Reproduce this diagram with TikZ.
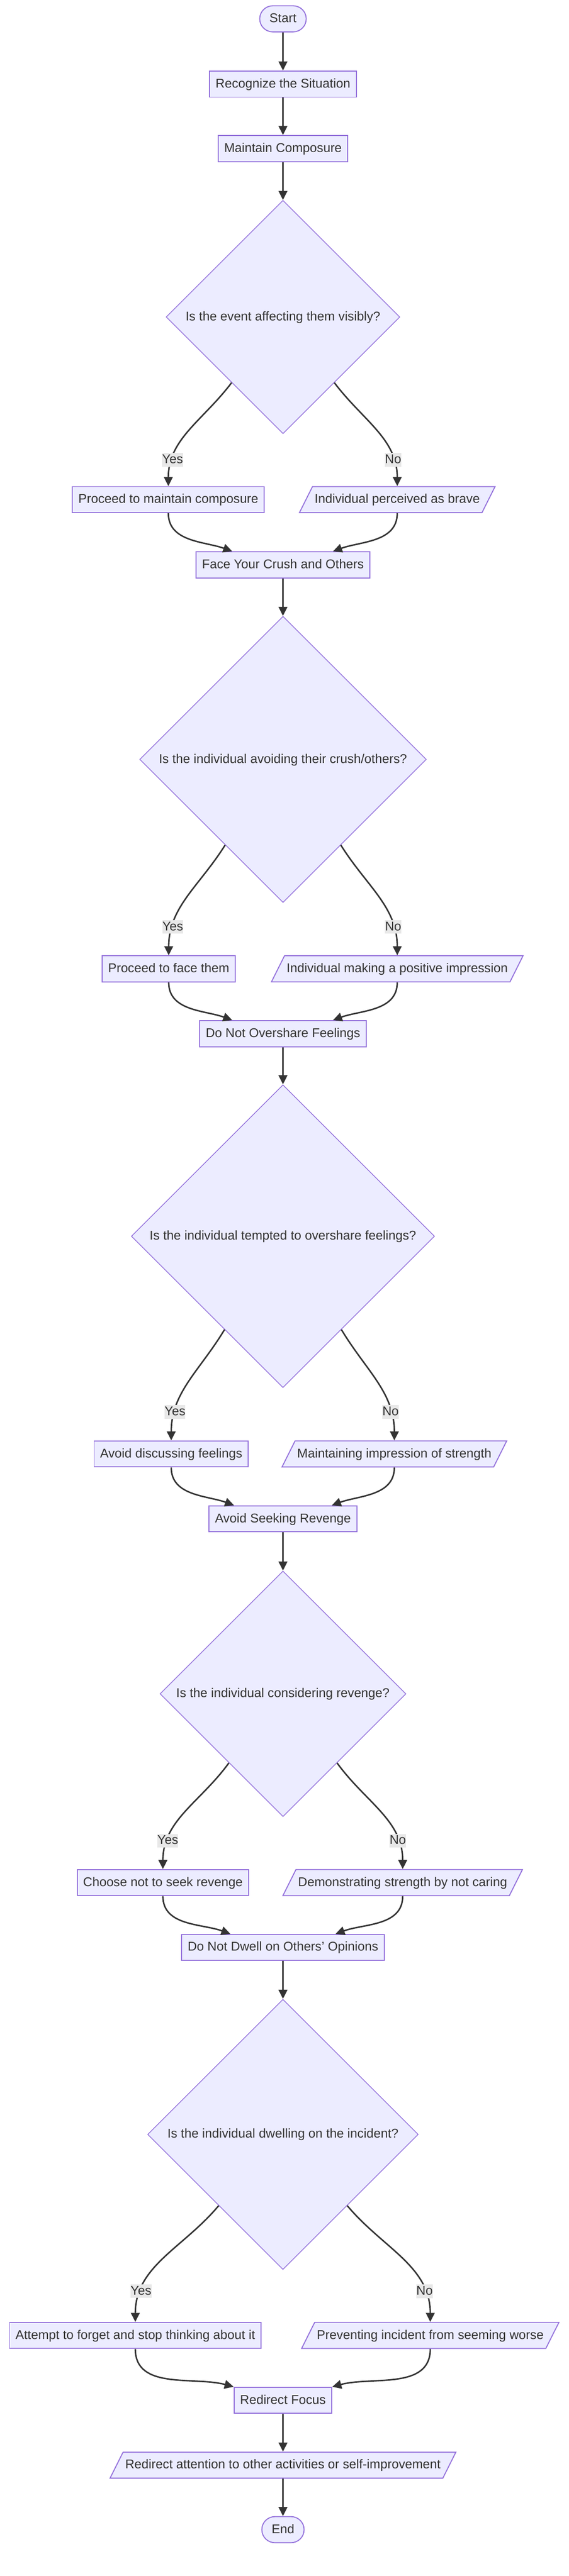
\documentclass[tikz,border=0pt]{standalone}
\usepackage{fontspec}
\setmainfont{Liberation Sans}
\usepackage{tikz}
\usetikzlibrary{shapes,arrows.meta}
\definecolor{nodefill}{HTML}{ECECFF}
\definecolor{nodeline}{HTML}{9370DB}
\definecolor{edgeline}{HTML}{333333}
\definecolor{textgray}{HTML}{333333}
\definecolor{answerfill}{HTML}{E8E8E8}
\tikzstyle{block} = [rectangle, draw = nodeline, fill = nodefill, line width = 0.027cm, inner xsep = 0.165cm, minimum height = 0.72cm]
\tikzstyle{terminal} = [block, rounded corners = 0.36cm, inner xsep = 0.27cm]
\tikzstyle{decision} = [diamond, aspect = 1, draw = nodeline, fill = nodefill, line width = 0.02cm, inner sep = 0pt]
\tikzstyle{io} = [trapezium, trapezium left angle = 63.4, trapezium right angle = 116.6, draw = nodeline, fill = nodefill, line width = 0.027cm, inner xsep = 0.06cm, inner ysep = 0.17cm]
\tikzstyle{answer} = [fill = answerfill, inner xsep = 0pt, inner ysep = 0pt]
\tikzstyle{arrow} = [draw = edgeline, line width = 0.04cm, -{Triangle[length = 0.25cm, width = 0.24cm]}]
\begin{document}
\begin{tikzpicture}
\tikzstyle{every node}=[font=\fontsize{10pt}{12pt}\selectfont, text = textgray, text height = 0.29cm, text depth = 0.09cm];
\useasboundingbox (0,0) rectangle (15.68,-71.10);
% main column
\node [terminal] (start) at (7.80,-0.52) {Start};
\node [block, below of = start, node distance = 1.80cm] (recognize) {Recognize the Situation};
\node [block, below of = recognize, node distance = 1.78cm] (composure) {Maintain Composure};
\node [decision, minimum size = 6.44cm, below of = composure, node distance = 4.65cm] (visibly) {Is the event affecting them visibly?};
\node [block, below of = visibly, node distance = 5.04cm, xshift = -3.16cm] (keepcalm) {Proceed to maintain composure};
\node [io, below of = visibly, node distance = 5.04cm, xshift = 3.15cm] (brave) {Individual perceived as brave};
\node [block, below of = visibly, node distance = 6.84cm] (face) {Face Your Crush and Others};
\node [decision, minimum size = 7.90cm, below of = face, node distance = 5.37cm] (avoiding) {Is the individual avoiding their crush/others?};
\node [block, below of = avoiding, node distance = 5.78cm, xshift = -3.15cm] (facethem) {Proceed to face them};
\node [io, below of = avoiding, node distance = 5.78cm, xshift = 3.15cm] (positive) {Individual making a positive impression};
\node [block, below of = avoiding, node distance = 7.57cm] (overshare) {Do Not Overshare Feelings};
\node [decision, minimum size = 8.36cm, below of = overshare, node distance = 5.59cm] (tempted) {Is the individual tempted to overshare feelings?};
\node [block, below of = tempted, node distance = 6.01cm, xshift = -3.08cm] (discuss) {Avoid discussing feelings};
\node [io, below of = tempted, node distance = 6.01cm, xshift = 3.07cm] (strength) {Maintaining impression of strength};
\node [block, below of = tempted, node distance = 7.80cm] (revenge) {Avoid Seeking Revenge};
\node [decision, minimum size = 6.78cm, below of = revenge, node distance = 4.83cm] (considering) {Is the individual considering revenge?};
\node [block, below of = considering, node distance = 5.21cm, xshift = -3.31cm] (choose) {Choose not to seek revenge};
\node [io, below of = considering, node distance = 5.21cm, xshift = 3.30cm] (notcaring) {Demonstrating strength by not caring};
\node [block, below of = considering, node distance = 7.00cm] (dwell) {Do Not Dwell on Others' Opinions};
\node [decision, minimum size = 7.46cm, below of = dwell, node distance = 5.16cm] (incident) {Is the individual dwelling on the incident?};
\node [block, below of = incident, node distance = 5.55cm, xshift = -4.07cm] (forget) {Attempt to forget and stop thinking about it};
\node [io, below of = incident, node distance = 5.55cm, xshift = 4.06cm] (worse) {Preventing incident from seeming worse};
\node [block, below of = incident, node distance = 7.34cm] (focus) {Redirect Focus};
\node [io, below of = focus, node distance = 1.79cm] (attention) {Redirect attention to other activities or self-improvement};
\node [terminal, below of = attention, node distance = 1.78cm] (stop) {End};
% straight connectors
\draw [arrow] (start) -- (recognize);
\draw [arrow] (recognize) -- (composure);
\draw [arrow] (composure) -- (visibly);
\draw [arrow] (face) -- (avoiding);
\draw [arrow] (overshare) -- (tempted);
\draw [arrow] (revenge) -- (considering);
\draw [arrow] (dwell) -- (incident);
\draw [arrow] (focus) -- (attention);
\draw [arrow] (attention) -- (stop);
% yes / no branches
\draw [arrow] (visibly.232) to [out = -127, in = 90] node [answer, pos = 0.79] {Yes} (keepcalm.north);
\draw [arrow] (visibly.308) to [out = -53, in = 90] node [answer, pos = 0.79] {No} (brave.north);
\draw [arrow] (avoiding.236) to [out = -122, in = 90] node [answer, pos = 0.78] {Yes} (facethem.north);
\draw [arrow] (avoiding.304) to [out = -58, in = 90] node [answer, pos = 0.78] {No} (positive.north);
\draw [arrow] (tempted.238) to [out = -121, in = 90] node [answer, pos = 0.78] {Yes} (discuss.north);
\draw [arrow] (tempted.302) to [out = -59, in = 90] node [answer, pos = 0.78] {No} (strength.north);
\draw [arrow] (considering.232) to [out = -126, in = 90] node [answer, pos = 0.78] {Yes} (choose.north);
\draw [arrow] (considering.308) to [out = -54, in = 90] node [answer, pos = 0.78] {No} (notcaring.north);
\draw [arrow] (incident.228) to [out = -130, in = 90] node [answer, pos = 0.79] {Yes} (forget.north);
\draw [arrow] (incident.312) to [out = -50, in = 90] node [answer, pos = 0.79] {No} (worse.north);
% merging back
\draw [arrow] (keepcalm.south) to [out = -90, in = 160] ([xshift = -1.40cm]face.north);
\draw [arrow] (brave.south) to [out = -90, in = 20] ([xshift = 1.38cm]face.north);
\draw [arrow] (facethem.south) to [out = -90, in = 160] ([xshift = -1.40cm]overshare.north);
\draw [arrow] (positive.south) to [out = -90, in = 20] ([xshift = 1.38cm]overshare.north);
\draw [arrow] (discuss.south) to [out = -90, in = 160] ([xshift = -1.35cm]revenge.north);
\draw [arrow] (strength.south) to [out = -90, in = 20] ([xshift = 1.35cm]revenge.north);
\draw [arrow] (choose.south) to [out = -90, in = 160] ([xshift = -1.45cm]dwell.north);
\draw [arrow] (notcaring.south) to [out = -90, in = 20] ([xshift = 1.45cm]dwell.north);
\draw [arrow] (forget.south) to [out = -90, in = 165] (focus.north west);
\draw [arrow] (worse.south) to [out = -90, in = 15] (focus.north east);
\end{tikzpicture}
\end{document}
